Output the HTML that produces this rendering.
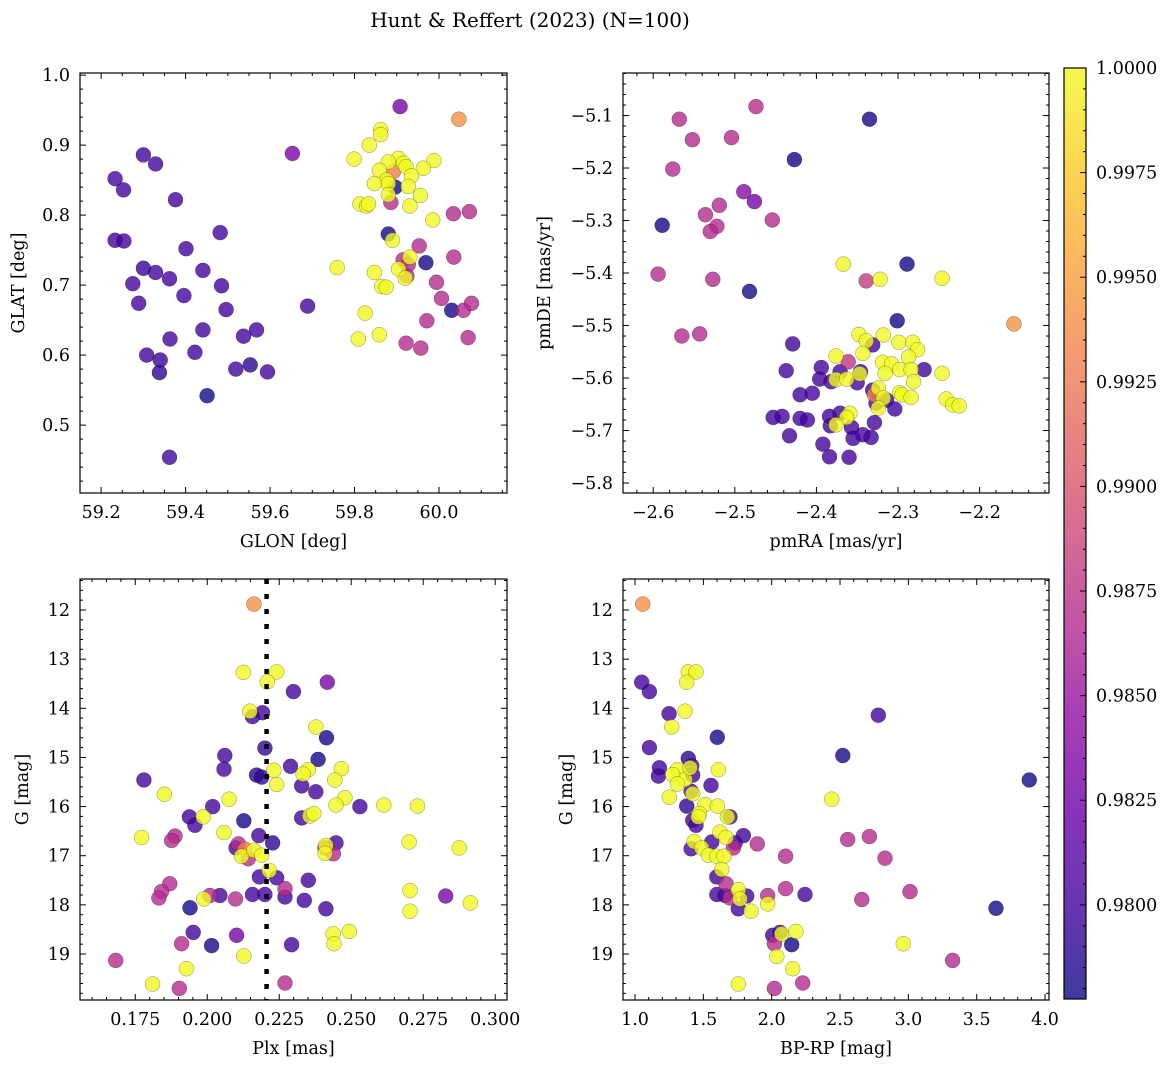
<!DOCTYPE html>
<html><head><meta charset="utf-8"><style>
html,body{margin:0;padding:0;background:#fff;}
svg{display:block;font-family:"DejaVu Serif","Liberation Serif",serif;}
</style></head><body>
<svg id="fig" width="1173" height="1067" viewBox="0 0 1173 1067" xmlns="http://www.w3.org/2000/svg">
<defs>
<linearGradient id="plasma" x1="0" y1="1" x2="0" y2="0">
<stop offset="0" stop-color="#0d0887"/><stop offset="0.1" stop-color="#41049d"/><stop offset="0.2" stop-color="#6a00a8"/><stop offset="0.3" stop-color="#8f0da4"/><stop offset="0.4" stop-color="#b12a90"/><stop offset="0.5" stop-color="#cc4778"/><stop offset="0.6" stop-color="#e16462"/><stop offset="0.7" stop-color="#f2844b"/><stop offset="0.8" stop-color="#fca636"/><stop offset="0.9" stop-color="#fcce25"/><stop offset="1" stop-color="#f0f921"/>
</linearGradient>
</defs>
<text x="530" y="27" text-anchor="middle" font-size="20">Hunt &amp; Reffert (2023) (N=100)</text>
</svg>
<script>
const p1_glon = [59.908,60.047,59.653,59.300,59.329,59.233,59.253,59.376,59.233,59.254,59.482,59.401,59.300,59.329,59.275,59.362,59.441,59.485,59.289,59.396,59.496,59.689,59.441,59.363,59.537,59.568,59.308,59.340,59.338,59.422,59.519,59.553,59.594,59.451,59.362,
59.862,59.862,59.835,59.799,59.904,59.880,59.916,59.922,59.988,59.963,59.859,59.892,59.876,59.880,59.935,59.847,59.927,59.896,59.956,59.880,59.813,59.829,59.833,59.886,59.931,59.985,60.034,60.072,59.880,59.890,59.953,60.035,59.931,59.915,59.927,59.969,59.759,59.847,59.904,59.920,59.924,59.994,59.864,59.875,60.006,60.030,60.058,60.077,59.825,59.971,59.809,59.859,59.922,59.957,60.069];
const p1_glat = [0.955,0.937,0.888,0.886,0.873,0.852,0.836,0.822,0.764,0.763,0.775,0.752,0.724,0.718,0.702,0.709,0.721,0.699,0.674,0.685,0.665,0.670,0.636,0.623,0.627,0.636,0.600,0.593,0.575,0.604,0.580,0.586,0.576,0.542,0.454,
0.922,0.915,0.900,0.880,0.881,0.876,0.874,0.869,0.878,0.867,0.864,0.862,0.850,0.845,0.856,0.845,0.841,0.840,0.828,0.829,0.816,0.813,0.816,0.818,0.813,0.793,0.802,0.805,0.773,0.764,0.756,0.740,0.740,0.736,0.729,0.732,0.725,0.718,0.723,0.710,0.713,0.704,0.698,0.697,0.681,0.664,0.664,0.674,0.660,0.649,0.623,0.629,0.617,0.610,0.625];
const p1_prob = [0.983,0.9942,0.983,0.9801,0.9801,0.9801,0.9801,0.9801,0.9801,0.9801,0.9801,0.9801,0.9795,0.9801,0.9801,0.9801,0.9801,0.9801,0.9801,0.9801,0.9801,0.9801,0.9801,0.9801,0.9801,0.9801,0.9801,0.9795,0.979,0.9801,0.9801,0.979,0.9801,0.978,0.9801,
1,1,1,1,1,1,1,1,1,1,1,0.993,1,1,1,1,1,0.978,1,1,1,1,1,0.9868,1,1,0.9868,0.9868,0.978,1,0.9868,0.9868,1,0.9868,0.9868,0.978,1,1,1,1,0.9868,0.9868,1,1,0.9868,0.978,0.9868,0.9868,1,0.9868,1,1,0.9868,0.9868,0.9868];

const p2_pmra = [-2.474,-2.568,-2.335,-2.552,-2.504,-2.427,-2.576,-2.489,-2.476,-2.519,-2.536,-2.522,-2.530,-2.454,-2.589,-2.367,-2.289,-2.594,-2.527,-2.339,-2.322,-2.246,-2.482,-2.158,-2.565,-2.543,-2.301,-2.429,
-2.348,-2.339,-2.318,-2.343,-2.299,-2.282,-2.276,-2.287,-2.376,-2.319,-2.308,-2.316,-2.298,-2.284,-2.347,-2.246,-2.281,-2.376,-2.363,-2.324,-2.298,-2.295,-2.284,-2.318,-2.241,-2.233,-2.225,-2.324,-2.359,-2.363,-2.376,
-2.331,-2.361,-2.437,-2.394,-2.371,-2.396,-2.346,-2.382,-2.350,-2.268,-2.420,-2.405,-2.331,-2.329,-2.314,-2.327,-2.304,-2.453,-2.442,-2.420,-2.411,-2.384,-2.371,-2.383,-2.357,-2.329,-2.433,-2.355,-2.343,-2.333,-2.392,-2.384,-2.360];
const p2_pmde = [-5.083,-5.107,-5.107,-5.146,-5.142,-5.184,-5.202,-5.245,-5.264,-5.271,-5.289,-5.311,-5.321,-5.299,-5.309,-5.383,-5.383,-5.402,-5.412,-5.415,-5.412,-5.410,-5.435,-5.497,-5.520,-5.516,-5.491,-5.535,
-5.517,-5.529,-5.518,-5.553,-5.532,-5.532,-5.546,-5.560,-5.558,-5.570,-5.573,-5.591,-5.584,-5.584,-5.592,-5.591,-5.607,-5.603,-5.602,-5.619,-5.628,-5.632,-5.637,-5.638,-5.640,-5.651,-5.653,-5.657,-5.667,-5.675,-5.689,
-5.537,-5.569,-5.586,-5.580,-5.588,-5.602,-5.588,-5.607,-5.609,-5.584,-5.632,-5.629,-5.623,-5.632,-5.642,-5.648,-5.659,-5.675,-5.673,-5.677,-5.680,-5.673,-5.667,-5.691,-5.694,-5.685,-5.710,-5.715,-5.708,-5.713,-5.726,-5.750,-5.751];
const p2_prob = [0.9868,0.9868,0.978,0.9868,0.9868,0.978,0.9868,0.984,0.983,0.9868,0.9868,0.9868,0.9868,0.9868,0.978,1,0.978,0.9868,0.9868,0.988,1,1,0.978,0.9942,0.9868,0.9868,0.978,0.9801,
1,1,1,1,1,1,1,1,1,1,1,1,1,1,1,1,1,1,1,1,1,1,1,1,1,1,1,1,1,1,1,
0.9801,0.9875,0.9801,0.9801,0.9801,0.9801,0.9801,0.9801,0.9801,0.9801,0.9801,0.9801,0.9801,0.993,0.9801,0.9801,0.9801,0.9801,0.9801,0.9801,0.9801,0.9801,0.9801,0.9801,0.9801,0.9801,0.9801,0.9801,0.9801,0.9801,0.9801,0.9801,0.9801];

const p3_plx = [0.2162,0.2125,0.2241,0.2208,0.2417,0.2299,0.2148,0.2157,0.2192,0.2377,0.2414,0.2200,0.2061,0.2385,0.2058,0.2289,0.2231,0.2351,0.2333,0.2466,0.2171,0.2189,0.2328,0.2241,0.2443,0.1780,0.2377,0.1851,0.2076,0.2478,0.2447,0.2530,0.2613,0.2730,0.2019,0.1938,0.1986,0.1957,0.2328,0.2356,0.2370,0.2127,0.1772,0.1888,0.1876,0.2058,0.2179,0.2227,0.2447,0.2412,0.2409,0.2438,0.2409,0.2701,0.2875,0.2108,0.2100,0.2131,0.2142,0.2119,0.2162,0.2189,0.2215,0.2181,0.2241,0.2351,0.1870,0.1841,0.1832,0.1988,0.2009,0.2044,0.2098,0.2157,0.2200,0.2270,0.2270,0.2337,0.2412,0.2704,0.2704,0.2828,0.2914,0.1940,0.1951,0.2102,0.2015,0.1911,0.2293,0.2437,0.2493,0.2440,0.2127,0.1682,0.1928,0.1810,0.1903,0.2270];
const p3_g = [11.88,13.27,13.26,13.46,13.47,13.66,14.06,14.17,14.09,14.38,14.60,14.81,14.96,15.04,15.24,15.18,15.26,15.25,15.34,15.23,15.36,15.40,15.58,15.55,15.46,15.46,15.70,15.75,15.85,15.82,15.97,16.00,15.97,15.99,16.00,16.21,16.21,16.38,16.23,16.19,16.14,16.29,16.63,16.60,16.69,16.53,16.59,16.74,16.74,16.79,16.84,16.96,16.95,16.72,16.84,16.76,16.84,16.87,17.06,17.01,16.89,16.99,17.30,17.43,17.45,17.50,17.57,17.73,17.86,17.88,17.81,17.81,17.88,17.79,17.79,17.67,17.84,17.91,18.08,17.71,18.13,17.82,17.96,18.06,18.56,18.62,18.83,18.79,18.81,18.59,18.54,18.79,19.04,19.13,19.30,19.61,19.70,19.59];
const p3_prob = [0.9942,1,1,1,0.983,0.9801,1,0.9801,0.9801,1,0.978,0.9795,0.9801,0.978,0.9801,0.9801,1,1,1,1,0.979,0.979,0.9801,1,1,0.9801,0.9801,1,1,1,1,0.9801,1,1,0.9801,0.9801,1,0.9801,0.9801,1,1,0.978,1,0.9868,0.9868,1,0.9801,0.979,0.9801,1,0.9868,0.9868,1,1,1,0.9868,0.9801,0.993,0.9868,1,1,1,1,0.9801,0.9801,0.9801,0.9868,0.9868,0.9868,1,0.9868,0.9801,0.9868,0.9801,0.9801,0.9868,0.9801,0.9801,0.9801,1,1,0.983,1,0.978,0.9801,0.983,0.978,0.9868,0.9801,1,1,1,1,0.9868,1,1,0.9868,0.9868];

const p4_bprp = [1.056,1.049,1.105,1.390,1.446,1.378,1.249,1.366,1.268,2.780,1.602,1.105,2.520,1.390,1.415,1.178,1.171,1.310,1.276,1.366,1.310,1.402,1.422,1.610,3.885,1.556,1.410,1.422,1.251,2.439,1.378,1.512,1.602,1.422,1.446,1.471,1.463,1.695,1.676,1.793,1.622,1.666,1.895,1.432,1.488,1.410,1.561,1.537,1.598,1.651,1.720,1.732,2.556,2.715,2.102,2.829,1.634,1.598,1.598,1.666,1.659,1.695,1.756,1.768,1.817,1.756,1.849,2.102,1.971,1.971,2.244,3.012,2.659,3.641,2.007,2.061,2.073,2.178,2.020,2.146,2.037,2.963,3.324,2.154,1.756,2.227,2.020];
const p4_g = [11.88,13.47,13.66,13.26,13.26,13.47,14.11,14.06,14.38,14.14,14.59,14.80,14.96,15.02,15.17,15.21,15.38,15.25,15.35,15.45,15.54,15.21,15.36,15.25,15.46,15.57,15.69,15.74,15.81,15.85,15.99,15.96,15.99,16.28,16.38,16.14,16.21,16.21,16.21,16.59,16.52,16.63,16.76,16.71,16.84,16.86,16.72,16.99,17.01,17.01,16.84,16.74,16.67,16.61,17.01,17.05,17.28,17.43,17.79,17.57,17.81,17.86,17.69,17.88,17.82,18.08,18.13,17.67,17.81,17.98,17.79,17.73,17.89,18.07,18.62,18.56,18.59,18.54,18.79,18.81,19.05,18.79,19.13,19.30,19.61,19.59,19.70];
const p4_prob = [0.9942,0.9801,0.9801,1,1,1,0.9801,1,1,0.9801,0.978,0.9801,0.978,0.979,0.9801,0.9801,0.9801,1,1,1,1,1,0.9801,1,0.978,0.9801,0.9801,1,1,1,0.979,1,1,0.9801,0.9801,1,1,0.9801,1,0.9801,1,1,0.9868,1,1,0.9801,0.9801,1,1,1,0.9868,0.9801,0.9868,0.9868,0.9868,0.9868,1,0.9801,0.9801,0.9868,0.9801,0.9868,1,1,0.9801,0.9801,1,0.9868,0.9868,1,0.9801,0.9868,0.9868,0.978,0.9801,0.9801,1,1,0.9868,0.978,1,1,0.9868,1,1,0.9868,0.9868];

const p1_xticks = [59.2,59.4,59.6,59.8,60.0];
const p1_xlabels = ["59.2","59.4","59.6","59.8","60.0"];
const p1_yticks = [0.5,0.6,0.7,0.8,0.9,1.0];
const p1_ylabels = ["0.5","0.6","0.7","0.8","0.9","1.0"];
const p2_xticks = [-2.6,-2.5,-2.4,-2.3,-2.2];
const p2_xlabels = ["\u22122.6","\u22122.5","\u22122.4","\u22122.3","\u22122.2"];
const p2_yticks = [-5.1,-5.2,-5.3,-5.4,-5.5,-5.6,-5.7,-5.8];
const p2_ylabels = ["\u22125.1","\u22125.2","\u22125.3","\u22125.4","\u22125.5","\u22125.6","\u22125.7","\u22125.8"];
const p3_xticks = [0.175,0.2,0.225,0.25,0.275,0.3];
const p3_xlabels = ["0.175","0.200","0.225","0.250","0.275","0.300"];
const g_yticks = [12,13,14,15,16,17,18,19];
const g_ylabels = ["12","13","14","15","16","17","18","19"];
const p4_xticks = [1.0,1.5,2.0,2.5,3.0,3.5,4.0];
const p4_xlabels = ["1.0","1.5","2.0","2.5","3.0","3.5","4.0"];
const cb_ticks = [0.98,0.9825,0.985,0.9875,0.99,0.9925,0.995,0.9975,1.0];
const cb_labels = ["0.9800","0.9825","0.9850","0.9875","0.9900","0.9925","0.9950","0.9975","1.0000"];
const plx_ref = 0.2206;

const VMIN = 0.97775, VMAX = 1.0;
const FS = 17.5;
const NS = "http://www.w3.org/2000/svg";
const svg = document.getElementById('fig');
const stops = ["#0d0887","#41049d","#6a00a8","#8f0da4","#b12a90","#cc4778","#e16462","#f2844b","#fca636","#fcce25","#f0f921"];
function hex(h){return [parseInt(h.slice(1,3),16),parseInt(h.slice(3,5),16),parseInt(h.slice(5,7),16)];}
function cmap(v){
  let t=(v-VMIN)/(VMAX-VMIN); t=Math.max(0,Math.min(1,t));
  const s=t*10, i=Math.min(9,Math.floor(s)), f=s-i;
  const a=hex(stops[i]), b=hex(stops[i+1]);
  return 'rgb('+a.map((c,k)=>Math.round(c+(b[k]-c)*f)).join(',')+')';
}
function el(tag, attrs, parent){
  const e=document.createElementNS(NS,tag);
  for(const k in attrs) e.setAttribute(k,attrs[k]);
  (parent||svg).appendChild(e); return e;
}
function panel(name, box, xd, yd, xs, ys, ps, xt, xl, yt, yl, xminor, yminor, xlabel, ylabel, ylabx){
  const g=el('g',{});
  
  
  const X=v=>box.x0+(v-xd[0])/(xd[1]-xd[0])*(box.x1-box.x0);
  const Y=v=>box.y1-(v-yd[0])/(yd[1]-yd[0])*(box.y1-box.y0);
  const clipId='clip-'+name;
  const cp=el('clipPath',{id:clipId},g);
  el('rect',{x:box.x0,y:box.y0,width:box.x1-box.x0,height:box.y1-box.y0},cp);
  const pts=el('g',{'clip-path':'url(#'+clipId+')'},g);
  
  
  const idx=ps.map((p,i)=>i).sort((a,b)=>ps[a]-ps[b]);
  idx.forEach(i=>{
    const c=el('circle',{cx:X(xs[i]).toFixed(1),cy:Y(ys[i]).toFixed(1),r:7.5,fill:cmap(ps[i]),'fill-opacity':0.8,stroke:'rgba(0,0,0,0.55)','stroke-width':0.4},pts);
    
    
  });
  const tk=el('g',{stroke:'#000','stroke-width':1},g);
  const xlo=Math.min(xd[0],xd[1]), xhi=Math.max(xd[0],xd[1]);
  const ylo=Math.min(yd[0],yd[1]), yhi=Math.max(yd[0],yd[1]);
  for(let v=Math.ceil(xlo/xminor-1e-6)*xminor; v<=xhi+1e-9; v+=xminor){
    const px=X(v); const major=xt.some(t=>Math.abs(t-v)<xminor/10); const L=major?6:3;
    el('line',{x1:px,y1:box.y1,x2:px,y2:box.y1-L},tk); el('line',{x1:px,y1:box.y0,x2:px,y2:box.y0+L},tk);
  }
  for(let v=Math.ceil(ylo/yminor-1e-6)*yminor; v<=yhi+1e-9; v+=yminor){
    const py=Y(v); const major=yt.some(t=>Math.abs(t-v)<yminor/10); const L=major?6:3;
    el('line',{x1:box.x0,y1:py,x2:box.x0+L,y2:py},tk); el('line',{x1:box.x1,y1:py,x2:box.x1-L,y2:py},tk);
  }
  el('rect',{x:box.x0,y:box.y0,width:box.x1-box.x0,height:box.y1-box.y0,fill:'none',stroke:'#000','stroke-width':1.2},g);
  xt.forEach((v,i)=>{
    const t=el('text',{x:X(v),y:box.y1+25,'text-anchor':'middle','font-size':FS},g); t.textContent=xl[i];
    
    
  });
  yt.forEach((v,i)=>{
    const t=el('text',{x:box.x0-10,y:Y(v)+6,'text-anchor':'end','font-size':FS},g); t.textContent=yl[i];
    
    
  });
  const xlab=el('text',{x:(box.x0+box.x1)/2,y:box.y1+54,'text-anchor':'middle','font-size':FS},g); xlab.textContent=xlabel;
  
  
  const cy=(box.y0+box.y1)/2;
  const ylab=el('text',{x:ylabx,y:cy,'text-anchor':'middle','font-size':FS,transform:'rotate(-90 '+ylabx+' '+cy+')'},g); ylab.textContent=ylabel;
  
  
  return {X,Y,g};
}
panel('glon-glat-panel',{x0:80,x1:507,y0:73,y1:493},[59.15,60.161],[0.403,1.003],p1_glon,p1_glat,p1_prob,p1_xticks,p1_xlabels,p1_yticks,p1_ylabels,0.05,0.02,'GLON [deg]','GLAT [deg]',24);
panel('pm-panel',{x0:623,x1:1049,y0:73,y1:493},[-2.637,-2.115],[-5.819,-5.019],p2_pmra,p2_pmde,p2_prob,p2_xticks,p2_xlabels,p2_yticks,p2_ylabels,0.02,0.02,'pmRA [mas/yr]','pmDE [mas/yr]',550);
const p3=panel('plx-g-panel',{x0:80,x1:507,y0:579,y1:1000},[0.1558,0.3041],[19.936,11.369],p3_plx,p3_g,p3_prob,p3_xticks,p3_xlabels,g_yticks,g_ylabels,0.005,0.2,'Plx [mas]','G [mag]',28);
const ref=el('line',{x1:p3.X(plx_ref),x2:p3.X(plx_ref),y1:579,y2:1000,stroke:'#000','stroke-width':4.5,'stroke-dasharray':'5 10'},p3.g);


panel('cmd-panel',{x0:623,x1:1049,y0:579,y1:1000},[0.912,4.029],[19.936,11.369],p4_bprp,p4_g,p4_prob,p4_xticks,p4_xlabels,g_yticks,g_ylabels,0.1,0.2,'BP-RP [mag]','G [mag]',572);

const cb=el('g',{});


const CB={x0:1064,x1:1086,y0:68,y1:999};
const CY=v=>CB.y1-(v-VMIN)/(VMAX-VMIN)*(CB.y1-CB.y0);
el('rect',{x:CB.x0,y:CB.y0,width:CB.x1-CB.x0,height:CB.y1-CB.y0,fill:'url(#plasma)','fill-opacity':0.8},cb);
el('rect',{x:CB.x0,y:CB.y0,width:CB.x1-CB.x0,height:CB.y1-CB.y0,fill:'none',stroke:'#000','stroke-width':1.2},cb);
for(let v=0.978; v<=1.00001; v+=0.0005){
  const major=cb_ticks.some(t=>Math.abs(t-v)<0.0001);
  el('line',{x1:CB.x1,x2:CB.x1-(major?6:3),y1:CY(v),y2:CY(v),stroke:'#000','stroke-width':1},cb);
}
cb_ticks.forEach((v,i)=>{
  const t=el('text',{x:1096,y:CY(v)+6,'font-size':FS},cb); t.textContent=cb_labels[i];
  
  
});
</script>
</body></html>
